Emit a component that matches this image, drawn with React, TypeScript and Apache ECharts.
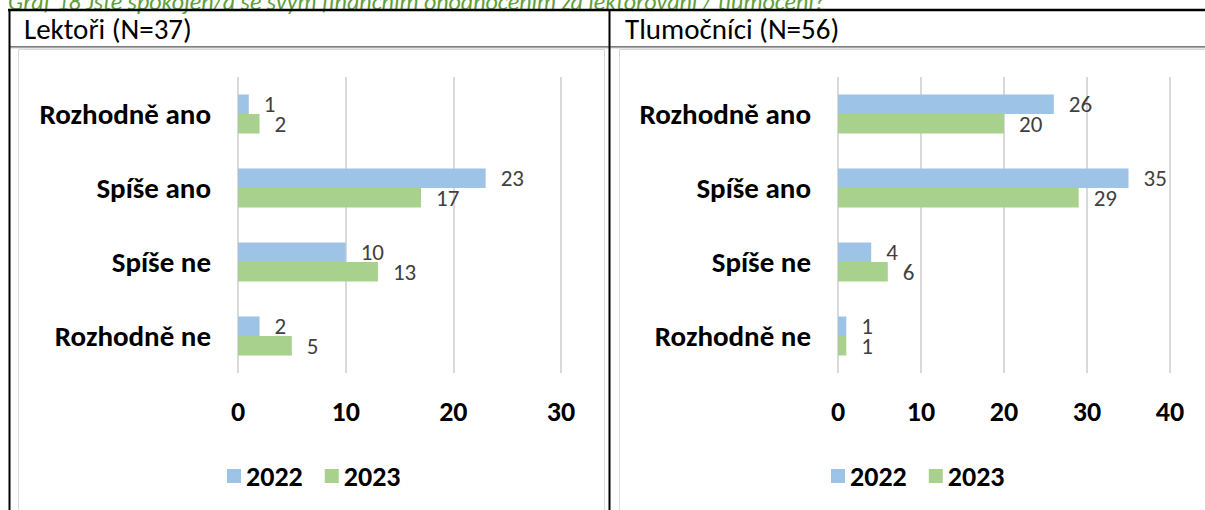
import React, { useEffect, useRef } from "react";
import * as echarts from "echarts";

const categories = ["Rozhodně ano", "Spíše ano", "Spíše ne", "Rozhodně ne"];
const seriesNames = ["2022", "2023"];
const lektori2022 = [1, 23, 10, 2];
const lektori2023 = [2, 17, 13, 5];
const tlumocnici2022 = [26, 35, 4, 1];
const tlumocnici2023 = [20, 29, 6, 1];
const leftTitle = "Lektoři (N=37)";
const rightTitle = "Tlumočníci (N=56)";
const caption = "Graf 18 Jste spokojen/a se svým finančním ohodnocením za lektorování / tlumočení?";

const FONT = "Carlito, Lato, sans-serif";
const BLUE = "#9DC3E6";
const GREEN = "#A9D18E";

export default function App() {
  const ref = useRef<HTMLDivElement>(null);
  useEffect(() => {
    if (!ref.current) return;
    const chart = echarts.init(ref.current, null, { renderer: "svg" });
    const mkX = (idx: number, max: number) => ({
      type: "value",
      gridIndex: idx,
      min: 0,
      max,
      interval: 10,
      axisLine: { show: false },
      axisTick: { show: false },
      splitLine: { show: true, lineStyle: { color: "#D9D9D9", width: 2 } },
      axisLabel: { color: "#000", fontSize: 28, fontWeight: "bold", fontFamily: FONT, margin: 24 },
    });
    const mkY = (idx: number) => ({
      type: "category",
      gridIndex: idx,
      data: categories,
      inverse: true,
      axisLine: { show: false },
      axisTick: { show: false },
      axisLabel: { color: "#000", fontSize: 29, fontWeight: "bold", fontFamily: FONT, margin: 27 },
    });
    const label = {
      show: true,
      position: "right",
      distance: 15,
      color: "#404040",
      fontSize: 23,
      lineHeight: 17,
      fontFamily: FONT,
    };
    const mkS = (name: string, data: number[], idx: number, color: string) => ({
      type: "bar",
      name,
      data,
      xAxisIndex: idx,
      yAxisIndex: idx,
      barWidth: 19.5,
      barGap: "0%",
      itemStyle: { color },
      label,
    });
    const legendBase = {
      orient: "horizontal",
      icon: "rect",
      itemWidth: 14,
      itemHeight: 14,
      itemGap: 22,
      top: 457,
      data: seriesNames,
      textStyle: { color: "#000", fontSize: 28, fontWeight: "bold", fontFamily: FONT, padding: [0, 0, 0, 0] },
      selectedMode: false,
    };
    const line = (x1: number, y1: number, x2: number, y2: number, w: number, c: string) => ({
      type: "line",
      shape: { x1, y1, x2, y2 },
      style: { stroke: c, lineWidth: w },
      silent: true,
    });
    chart.setOption({
      animation: false,
      backgroundColor: "#fff",
      grid: [
        { left: 238, top: 77, width: 323, height: 296 },
        { left: 838, top: 77, width: 332, height: 296 },
      ],
      xAxis: [mkX(0, 30), mkX(1, 40)],
      yAxis: [mkY(0), mkY(1)],
      legend: [
        { ...legendBase, left: 222 },
        { ...legendBase, left: 826 },
      ],
      series: [
        mkS(seriesNames[0], lektori2022, 0, BLUE),
        mkS(seriesNames[1], lektori2023, 0, GREEN),
        mkS(seriesNames[0], tlumocnici2022, 1, BLUE),
        mkS(seriesNames[1], tlumocnici2023, 1, GREEN),
      ],
      graphic: [
        {
          type: "text",
          x: 8,
          y: 1,
          style: {
            text: caption,
            fill: "#5E9E3B",
            font: `italic 24px ${FONT}`,
            lineHeight: 16,
            verticalAlign: "middle",
          },
          silent: true,
        },
        {
          type: "rect",
          shape: { x: 18.5, y: 49.5, width: 586, height: 480 },
          style: { fill: "none", stroke: "#D9D9D9", lineWidth: 1 },
          silent: true,
        },
        {
          type: "rect",
          shape: { x: 619.5, y: 49.5, width: 600, height: 480 },
          style: { fill: "none", stroke: "#D9D9D9", lineWidth: 1 },
          silent: true,
        },
        line(8, 10, 1205, 10, 2.5, "#000"),
        line(9.5, 47, 1205, 47, 1, "#000"),
        line(9.5, 48, 1205, 48, 1, "#D0D0D0"),
        line(9.5, 9, 9.5, 510, 2, "#000"),
        line(609.5, 9, 609.5, 510, 2, "#000"),
        {
          type: "text",
          x: 24,
          y: 29,
          style: { text: leftTitle, fill: "#000", font: `29px ${FONT}`, lineHeight: 24, verticalAlign: "middle" },
          silent: true,
        },
        {
          type: "text",
          x: 625,
          y: 29,
          style: { text: rightTitle, fill: "#000", font: `29px ${FONT}`, lineHeight: 24, verticalAlign: "middle" },
          silent: true,
        },
      ],
    });
    return () => chart.dispose();
  }, []);
  return (
    <div
      ref={ref}
      style={{ position: "absolute", left: 0, top: 0, width: 1205, height: 510 }}
    />
  );
}
